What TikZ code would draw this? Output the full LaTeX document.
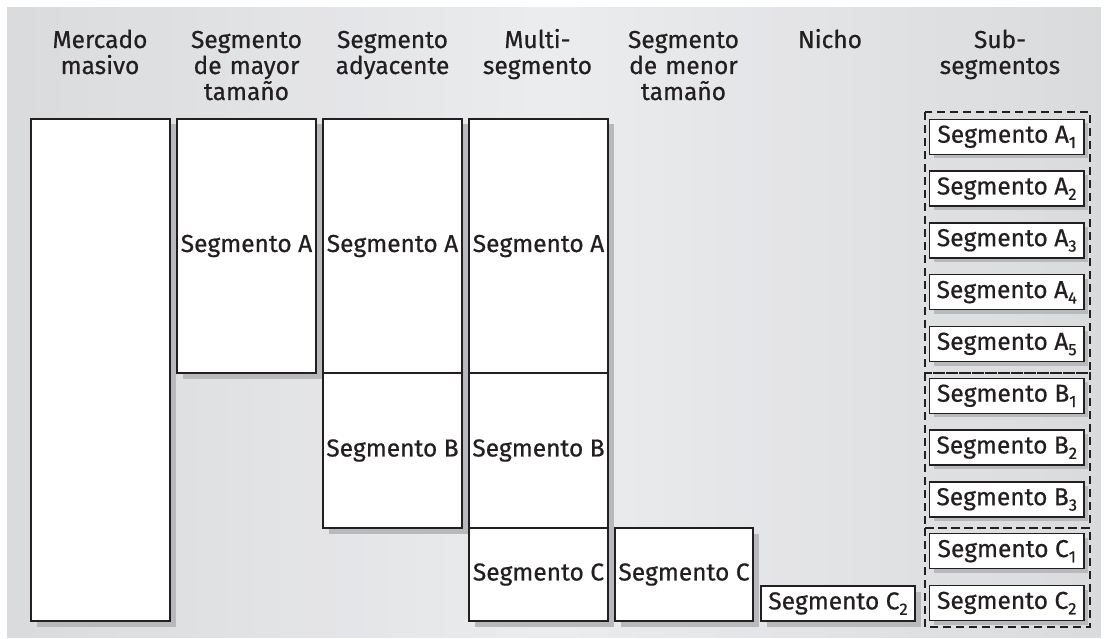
\documentclass[tikz,border=0pt]{standalone}
\usepackage{fontspec}
\setmainfont{Fira Sans}[FakeBold=0.6]
\definecolor{bgA}{HTML}{DADBDD}
\definecolor{bgB}{HTML}{EBECEE}
\definecolor{shadowgrey}{HTML}{B8B9BC}
\definecolor{ink}{HTML}{231F20}
\newcommand{\lowsub}[1]{\raisebox{-0.22em}{\fontsize{16.5}{16.5}\selectfont #1}}
\begin{document}
\begin{tikzpicture}[x=1pt,y=-1pt,
  basebox/.style={draw=ink, line width=1.3pt, fill=white, inner sep=0pt, outer sep=0pt,
    anchor=north west, text=ink, font=\fontsize{24.5}{26}\selectfont},
  segbox/.style={basebox},
  subbox/.style={basebox, minimum width=154.5pt, minimum height=35pt},
  head/.style={text width=150pt, align=center, anchor=base, inner sep=0pt, text=ink,
    font=\fontsize{24.5}{26}\selectfont},
  group/.style={draw=ink, line width=1.2pt, dash pattern=on 8pt off 5pt}
]
\useasboundingbox (0,0) rectangle (1108,639);
% background: soft gradient built from strips (dark edges, light centre)
\foreach \i in {0,...,39}{
  \pgfmathsetmacro{\t}{abs(\i-19.5)/19.5*100}
  \fill[bgA!\t!bgB] (7+\i*27.325,7) rectangle (7+\i*27.325+27.9,638);
}

% shadows of the boxes
\foreach \sx/\sy/\sw/\sh in {31/119/139/502, 177/119/139/254, 323/119/139/409,
    469/119/139/502, 615/528/138/93, 761/586/154/35}
  \fill[shadowgrey] (\sx+5.5,\sy+5.5) rectangle (\sx+\sw+5.5,\sy+\sh+5.5);
\foreach \k in {0,...,9}
  \fill[shadowgrey] (933.5,119.3+51.8*\k+4) rectangle (1088,119.3+51.8*\k+39);

% headers
\node[head] (h1) at (100,48) {Mercado\\masivo};
\node[head] (h2) at (246.5,48) {Segmento\\de mayor\\tamaño};
\node[head] (h3) at (392.5,48) {Segmento\\adyacente};
\node[head] (h4) at (537.5,48) {Multi-\\segmento};
\node[head] (h5) at (683.5,48) {Segmento\\de menor\\tamaño};
\node[head] (h6) at (830,48) {Nicho};
\node[head] (h7) at (1000,48) {Sub-\\segmentos};

% column 1
\node[segbox, minimum width=139pt, minimum height=502pt] (c1) at (31,119) {};
% column 2
\node[segbox, minimum width=139pt, minimum height=254pt] (c2a) at (177,119) {Segmento A};
% column 3
\node[segbox, minimum width=139pt, minimum height=254pt] (c3a) at (323,119) {Segmento A};
\node[segbox, minimum width=139pt, minimum height=155pt] (c3b) at (323,373) {Segmento B};
% column 4
\node[segbox, minimum width=139pt, minimum height=254pt] (c4a) at (469,119) {Segmento A};
\node[segbox, minimum width=139pt, minimum height=155pt] (c4b) at (469,373) {Segmento B};
\node[segbox, minimum width=139pt, minimum height=93pt] (c4c) at (469,528) {Segmento C};
% column 5
\node[segbox, minimum width=138pt, minimum height=93pt] (c5c) at (615,528) {Segmento C};
% column 6
\node[segbox, minimum width=154pt, minimum height=35pt] (c6) at (761,586) {Segmento C\lowsub{2}};

% column 7
\node[subbox] (a1) at (929.5,119.3) {Segmento A\lowsub{1}};
\node[subbox] (a2) at (929.5,171.1) {Segmento A\lowsub{2}};
\node[subbox] (a3) at (929.5,222.9) {Segmento A\lowsub{3}};
\node[subbox] (a4) at (929.5,274.7) {Segmento A\lowsub{4}};
\node[subbox] (a5) at (929.5,326.5) {Segmento A\lowsub{5}};
\node[subbox] (b1) at (929.5,378.3) {Segmento B\lowsub{1}};
\node[subbox] (b2) at (929.5,430.1) {Segmento B\lowsub{2}};
\node[subbox] (b3) at (929.5,481.9) {Segmento B\lowsub{3}};
\node[subbox] (k1) at (929.5,533.7) {Segmento C\lowsub{1}};
\node[subbox] (k2) at (929.5,585.5) {Segmento C\lowsub{2}};

\draw[group] (925,112) rectangle (1090,373);
\draw[group] (925,373) rectangle (1090,528);
\draw[group] (925,528) rectangle (1090,627);
\end{tikzpicture}
\end{document}
